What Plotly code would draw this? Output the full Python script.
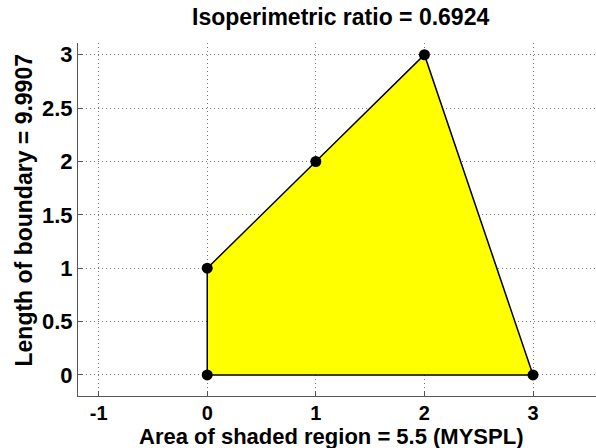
import math
import plotly.graph_objects as go

# Polygon vertices (in order around the boundary)
vx = [0, 0, 1, 2, 3]
vy = [0, 1, 2, 3, 0]

x_ticks = [-1, 0, 1, 2, 3]
y_ticks = [0, 0.5, 1, 1.5, 2, 2.5, 3]

# area by shoelace formula, boundary length by summing edges
n = len(vx)
area = 0.5 * abs(sum(vx[i] * vy[(i + 1) % n] - vx[(i + 1) % n] * vy[i] for i in range(n)))
perim = sum(math.hypot(vx[(i + 1) % n] - vx[i], vy[(i + 1) % n] - vy[i]) for i in range(n))
ratio = 4 * math.pi * area / perim ** 2

px = vx + [vx[0]]
py = vy + [vy[0]]

fig = go.Figure()
fig.add_trace(go.Scatter(
    x=px, y=py, mode="lines", fill="toself", fillcolor="#FFFF00",
    line=dict(color="black", width=1.5), hoverinfo="skip", showlegend=False,
))
fig.add_trace(go.Scatter(
    x=vx, y=vy, mode="markers",
    marker=dict(color="black", size=11, line=dict(width=0)),
    showlegend=False, cliponaxis=False,
))

font = dict(family="Liberation Sans, Arial, sans-serif", size=22, color="black", weight="bold")
xtfont = dict(font, size=20)
lfont = dict(font, size=23)
grid = dict(showgrid=True, gridcolor="#777777", griddash="1px,3px", gridwidth=1)

fig.update_layout(
    width=596, height=448,
    margin=dict(l=78, r=0, t=43, b=52),
    plot_bgcolor="white", paper_bgcolor="white",
    font=font,
    title=dict(text=f"Isoperimetric ratio = {ratio:.4f}", x=0.507, xref="paper", xanchor="center",
               y=0.962, yanchor="middle", font=lfont),
    xaxis=dict(
        range=[-1.19, 3.58], tickvals=x_ticks, ticktext=[str(t) for t in x_ticks],
        showline=True, linecolor="#555555", linewidth=1, mirror=False,
        ticks="inside", ticklen=5, tickcolor="#555555", ticklabelstandoff=-1,
        zeroline=False, tickfont=xtfont, **grid,
    ),
    yaxis=dict(
        range=[-0.197, 3.11], tickvals=y_ticks, ticktext=[f"{t:g}" for t in y_ticks],
        showline=True, linecolor="#555555", linewidth=1, mirror=False,
        ticks="inside", ticklen=5, tickcolor="#555555",
        zeroline=False, tickfont=font, **grid,
    ),
    annotations=[
        dict(text=f"Area of shaded region = {area:g} (MYSPL)", xref="paper", yref="paper",
             x=0.488, y=0.0, xanchor="center", yanchor="middle", yshift=-40,
             showarrow=False, font=font),
        dict(text=f"Length of boundary = {perim:.4f}", xref="paper", yref="paper",
             x=0.0, y=0.5, xanchor="center", yanchor="middle", xshift=-55, yshift=9,
             textangle=-90, showarrow=False, font=lfont),
    ],
)

fig.write_html("out.html")
